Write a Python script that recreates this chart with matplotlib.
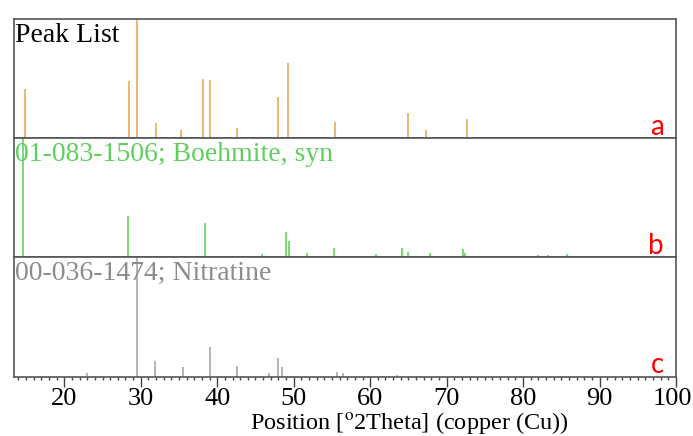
import matplotlib.pyplot as plt
import matplotlib.transforms as mtransforms
import numpy as np
from matplotlib.ticker import MultipleLocator

# peak positions (deg 2theta) and relative heights
peak_pos = [14.86, 28.46, 29.46, 32.03, 35.3, 38.17, 39.0, 42.63, 47.9, 49.2,
            55.36, 64.95, 67.3, 72.67]
peak_int = [41, 48, 100, 13, 7, 50, 49, 9, 35, 63, 14, 21, 7, 16]

boehmite_pos = [14.6, 28.37, 38.4, 45.9, 49.0, 49.35, 51.8, 55.3, 60.7, 64.2,
                65.0, 67.05, 67.8, 72.1, 72.4, 79.25, 81.9, 83.3, 85.7, 87.6]
boehmite_int = [100, 35, 29, 2.5, 21, 13.5, 3.4, 8, 2.5, 8, 4.7, 1, 4, 7.5,
                4, 1, 2, 2, 3, 1]

nitratine_pos = [22.93, 29.46, 31.86, 35.5, 39.0, 42.63, 46.8, 47.9, 48.47,
                 55.6, 56.5, 61.7, 62.5, 63.5, 66.7]
nitratine_int = [3.3, 100, 13.5, 8, 25, 9, 2.8, 16, 8, 4, 3.3, 1, 1, 1.5, 1]

titles = ["Peak List", "01-083-1506; Boehmite, syn", "00-036-1474; Nitratine"]
title_colors = ["black", "#5fcf5f", "#8c8c8c"]
line_colors = ["#e8a95a", "#5fd65f", "#a8a8a8"]
panel_labels = ["a", "b", "c"]

plt.rcParams["mathtext.fontset"] = "stix"

W, H = 693, 436
fig = plt.figure(figsize=(W / 100, H / 100), dpi=100)
left, right = 14 / W, 676 / W
top, bottom = 1 - 19 / H, 1 - 376.7 / H
ph = (top - bottom) / 3

series = [(peak_pos, peak_int), (boehmite_pos, boehmite_int),
          (nitratine_pos, nitratine_int)]
axes = []
for i, (pos, inten) in enumerate(series):
    ax = fig.add_axes([left, top - (i + 1) * ph, right - left, ph])
    ax.vlines(pos, 0, np.array(inten) / 100.0, color=line_colors[i], lw=1.2)
    ax.set_xlim(13.42, 100)
    ax.set_ylim(0, 1)
    ax.set_yticks([])
    for s in ax.spines.values():
        s.set_color("#555555")
        s.set_linewidth(1.2)
    ax.text(0.0015, 0.81, titles[i], transform=ax.transAxes,
            family="Liberation Serif", fontsize=20, color=title_colors[i],
            va="baseline", ha="left")
    ax.text(0.982, 0.03, panel_labels[i], transform=ax.transAxes,
            family="Lato", fontsize=20, color="red", va="baseline", ha="right")
    if i < 2:
        ax.tick_params(axis="x", which="both", bottom=False, labelbottom=False)
    axes.append(ax)

ax = axes[-1]
ax.xaxis.set_major_locator(MultipleLocator(10))
ax.xaxis.set_minor_locator(MultipleLocator(1))
ax.tick_params(axis="x", which="major", direction="out", length=7, width=1,
               color="#444444", labelsize=19, pad=1)
ax.tick_params(axis="x", which="minor", direction="out", length=2.5, width=1,
               color="#444444")
fig.canvas.draw()
labels = ax.get_xticklabels()
for lab in labels:
    lab.set_family("Liberation Serif")
# the last label sits against the right edge, nudge it in a little
shift = mtransforms.ScaledTranslation(-4 / 100, 0, fig.dpi_scale_trans)
for lab in labels:
    if lab.get_text() == "100":
        lab.set_transform(lab.get_transform() + shift)

fig.text(409 / W, 1 - 429 / H, r"Position [$^{\mathrm{o}}$2Theta] (copper (Cu))",
         family="Liberation Serif", fontsize=17.5, ha="center", va="baseline")

fig.savefig("out.png", dpi=100)
